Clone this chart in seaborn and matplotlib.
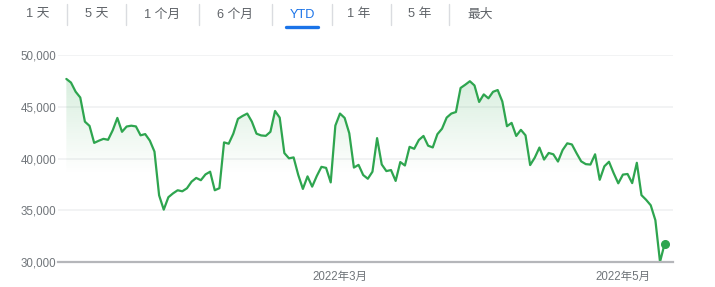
import numpy as np
import pandas as pd
import matplotlib
matplotlib.use("Agg")
import matplotlib.pyplot as plt
import matplotlib.dates as mdates
from matplotlib.patches import Polygon, FancyBboxPatch
from matplotlib.lines import Line2D
import seaborn as sns

# ---------------- data ----------------
start_date = "2022-01-01"
prices = [
    47690, 47340, 46460, 45900, 43570, 43160, 41520, 41730, 41910, 41820,
    42740, 43930, 42590, 43100, 43180, 43110, 42250, 42370, 41740, 40680,
    36460, 35080, 36280, 36650, 36950, 36850, 37140, 37780, 38140, 37920,
    38480, 38740, 36950, 37150, 41570, 41440, 42410, 43840, 44120, 44350,
    43570, 42410, 42240, 42200, 42590, 44600, 43960, 40540, 40030, 40120,
    38430, 37080, 38290, 37300, 38330, 39210, 39110, 37710, 43190, 44350,
    43930, 42450, 39140, 39400, 38420, 38060, 38740, 41980, 39440, 38800,
    38900, 37850, 39670, 39340, 41140, 40950, 41800, 42190, 41250, 41080,
    42360, 42890, 43960, 44350, 44500, 46820, 47130, 47470, 47060, 45470,
    46200, 45820, 46450, 46620, 45520, 43130, 43450, 42190, 42780, 42250,
    39380, 40100, 41070, 39910, 40550, 40420, 39720, 40830, 41480, 41370,
    40530, 39740, 39470, 39430, 40420, 37960, 39260, 39700, 38610, 37620,
    38460, 38520, 37640, 39600, 36480, 36030, 35500, 34060, 30040, 31800,
]
dates = pd.date_range(start_date, periods=len(prices), freq="D")
df = pd.DataFrame({"date": dates, "price": prices})

y_ticks = [30000, 35000, 40000, 45000, 50000]
y_tick_labels = ["30,000", "35,000", "40,000", "45,000", "50,000"]
x_tick_dates = ["2022-03-01", "2022-05-01"]
x_tick_labels = ["2022年3月", "2022年5月"]
tabs = ["1 天", "5 天", "1 个月", "6 个月", "YTD", "1 年", "5 年", "最大"]
active_tab = "YTD"

# ---------------- style ----------------
sns.set_theme(style="white")
FONTS = ["Liberation Sans", "Noto Sans CJK SC", "DejaVu Sans"]
plt.rcParams["font.family"] = FONTS

W, H = 715, 287
fig = plt.figure(figsize=(W / 100, H / 100), dpi=100)
fig.patch.set_facecolor("white")

ax_left, ax_right = 58, 673
ax_top, ax_bottom = 55, 262.3
ax = fig.add_axes([ax_left / W, 1 - ax_bottom / H,
                   (ax_right - ax_left) / W, (ax_bottom - ax_top) / H])
ax.set_facecolor("white")

LINE_COLOR = "#2ea54f"

sns.lineplot(data=df, x="date", y="price", ax=ax, color=LINE_COLOR,
             linewidth=1.6, zorder=4)

# end dot
ax.plot([df["date"].iloc[-1]], [df["price"].iloc[-1]], "o", color=LINE_COLOR,
        markersize=5.5, zorder=5, clip_on=False)

x0 = mdates.date2num(pd.Timestamp(start_date)) - 1.8
x1 = mdates.date2num(pd.Timestamp(start_date)) + 130.8
ax.set_xlim(x0, x1)
ax.set_ylim(30000, 50000)

# gradient fill under line
xs = mdates.date2num(df["date"])
ys = np.array(prices, dtype=float)
poly_xy = np.column_stack([np.r_[xs[0], xs, xs[-1]], np.r_[30000, ys, 30000]])
poly = Polygon(poly_xy, closed=True, facecolor="none", edgecolor="none")
ax.add_patch(poly)
g_low, g_high = 38500, 48000
n = 256
alpha = np.linspace(0.0, 0.2, n)[:, None]
rgba = np.zeros((n, 1, 4))
rgba[..., 0] = 52 / 255
rgba[..., 1] = 168 / 255
rgba[..., 2] = 83 / 255
rgba[..., 3] = alpha
im = ax.imshow(rgba, extent=[xs[0], xs[-1], g_low, g_high], origin="lower",
               aspect="auto", zorder=2, interpolation="bilinear")
im.set_clip_path(poly)

# grid
for yv in y_ticks[1:]:
    ax.axhline(yv, color="#f1f2f3", linewidth=1.3, zorder=1)

for s in ["top", "right", "left"]:
    ax.spines[s].set_visible(False)
ax.spines["bottom"].set_color("#b5b6ba")
ax.spines["bottom"].set_linewidth(1.6)
ax.spines["bottom"].set_zorder(6)

ax.set_yticks(y_ticks)
ax.set_yticklabels(y_tick_labels)
ax.set_xticks([mdates.date2num(pd.Timestamp(d)) for d in x_tick_dates])
ax.set_xticklabels(x_tick_labels)
ax.tick_params(axis="y", length=0, pad=1, labelsize=8.3, labelcolor="#70757a")
ax.tick_params(axis="x", length=4.5, width=1, color="#9aa0a6", pad=1.5,
               labelsize=8.3, labelcolor="#70757a", direction="out")
for lab in ax.get_xticklabels() + ax.get_yticklabels():
    lab.set_fontfamily(FONTS)
ax.set_xlabel("")
ax.set_ylabel("")
ax.grid(False)

# ---------------- tabs ----------------
tab_x = [38, 97, 162, 235, 302, 359, 420, 480]
sep_x = [67, 126, 199, 272, 332, 391, 449]
for t, xc in zip(tabs, tab_x):
    col = "#1a73e8" if t == active_tab else "#5f6368"
    fig.text(xc / W, 1 - 14.5 / H, t, ha="center", va="center", fontsize=9.2,
             color=col, family=FONTS)
for sx in sep_x:
    fig.add_artist(Line2D([sx / W, sx / W], [1 - 3.5 / H, 1 - 24.5 / H],
                          color="#dadce0", linewidth=1.0))
fig.add_artist(Line2D([285.5 / W, 317.5 / W], [1 - 27 / H, 1 - 27 / H],
                      color="#1a73e8", linewidth=2.4, solid_capstyle="round"))

fig.savefig("out.png", dpi=100, facecolor="white")
